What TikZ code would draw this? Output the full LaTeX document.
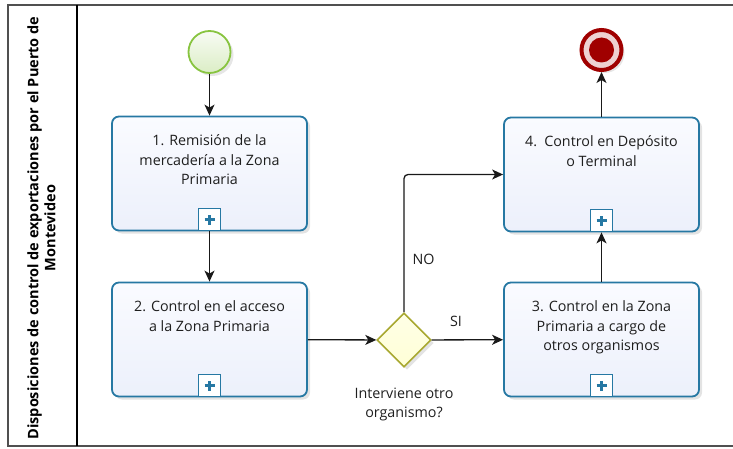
\documentclass[tikz,border=0pt]{standalone}
\usepackage{fontspec}
\setmainfont{Open Sans}
\usetikzlibrary{shapes.geometric,arrows.meta,shadows}
\definecolor{taskblue}{RGB}{38,120,163}
\definecolor{taskfillT}{RGB}{250,251,255}
\definecolor{taskfillB}{RGB}{236,240,251}
\definecolor{startgreen}{RGB}{136,196,64}
\definecolor{endred}{RGB}{160,0,0}
\definecolor{gwborder}{RGB}{168,168,48}
\definecolor{gwfill}{RGB}{255,255,214}
\definecolor{flowcol}{RGB}{25,25,25}
\definecolor{framecol}{RGB}{80,80,80}
\definecolor{txtcol}{RGB}{30,30,30}
\tikzset{
  tasknode/.style={rectangle, rounded corners=7pt, draw=taskblue, line width=1.8pt,
    top color=taskfillT, bottom color=taskfillB, minimum width=195pt, minimum height=114pt,
    inner sep=0pt, drop shadow={opacity=0.22, shadow xshift=3pt, shadow yshift=-3pt}},
  tasktext/.style={anchor=north, align=center, inner sep=0pt, text=txtcol,
    font=\fontsize{14.3}{19.5}\selectfont},
  submarker/.style={rectangle, draw=taskblue, line width=1.6pt, fill=white,
    minimum width=22pt, minimum height=22pt, inner sep=0pt, anchor=south,
    path picture={\draw[taskblue, line width=3.6pt]
      (path picture bounding box.center) ++(-5pt,0pt) -- ++(10pt,0pt)
      (path picture bounding box.center) ++(0pt,-5pt) -- ++(0pt,10pt);}},
  startev/.style={circle, draw=startgreen, line width=1.8pt, top color=white!60!startgreen!15,
    bottom color=startgreen!30, minimum size=42pt, inner sep=0pt,
    drop shadow={opacity=0.2, shadow xshift=3pt, shadow yshift=-3pt}},
  endev/.style={circle, draw=endred, line width=4pt, fill=endred!18,
    minimum size=40pt, inner sep=0pt,
    drop shadow={opacity=0.2, shadow xshift=3pt, shadow yshift=-3pt}},
  endcore/.style={circle, fill=endred, minimum size=25pt, inner sep=0pt},
  gateway/.style={diamond, draw=gwborder, line width=1.6pt, top color=gwfill!60, bottom color=gwfill,
    minimum width=54pt, minimum height=54pt, inner sep=0pt, aspect=1,
    drop shadow={opacity=0.22, shadow xshift=3pt, shadow yshift=-3pt}},
  flow/.style={draw=flowcol, line width=1.3pt, -{Stealth[length=11pt,width=10pt,inset=3pt]}},
  flowlabel/.style={text=txtcol, font=\fontsize{14.3}{15}\selectfont, inner sep=0pt},
  lanelabel/.style={rotate=90, align=center, text=black, inner sep=0pt,
    font=\bfseries\fontsize{14.5}{17}\selectfont},
}
\begin{document}
\begin{tikzpicture}[x=1pt, y=-1pt]
\useasboundingbox (0,0) rectangle (733,449);
% pool frame
\draw[framecol, line width=2pt] (733,5) -- (8,5) -- (8,446) -- (733,446);
\draw[black, line width=1.1pt] (77,5) -- (77,446);
\node[lanelabel] (lane) at (41.5,228) {Disposiciones de control de exportaciones por el Puerto de\\Montevideo};

% events
\node[startev] (start) at (209.5,52) {};
\node[endev] (end) at (601.5,50) {};
\node[endcore] (endin) at (end.center) {};

% tasks
\node[tasknode] (t1) at (209.5,173.5) {};
\node[tasknode] (t2) at (209.5,339.5) {};
\node[tasknode] (t3) at (601.5,339.5) {};
\node[tasknode] (t4) at (601.5,174.5) {};

\node[tasktext] (t1txt) at ([yshift=-19pt]t1.north) {1. Remisión de la\\mercadería a la Zona\\Primaria};
\node[tasktext] (t2txt) at ([yshift=-19pt]t2.north) {2. Control en el acceso\\a la Zona Primaria};
\node[tasktext] (t3txt) at ([yshift=-19pt]t3.north) {3. Control en la Zona\\Primaria a cargo de\\otros organismos};
\node[tasktext] (t4txt) at ([yshift=-19pt]t4.north) {4.\enspace Control en Depósito\\o Terminal};

\node[submarker] (m1) at (t1.south) {};
\node[submarker] (m2) at (t2.south) {};
\node[submarker] (m3) at (t3.south) {};
\node[submarker] (m4) at (t4.south) {};

% gateway
\node[gateway] (gw) at (404,340) {};
\node[flowlabel, anchor=north, align=center, font=\fontsize{14.3}{19}\selectfont] (gwtxt) at ([yshift=-20pt]gw.south) {Interviene otro\\organismo?};

% flows
\draw[flow] (start) -- (t1);
\draw[flow] (t1) -- (t2);
\draw[flow] (t2) -- (gw);
\draw[flow] (gw) -- node[flowlabel, pos=0.34, above=13pt] (si) {SI} (t3);
\draw[flow, rounded corners=4pt] (gw.north) |- node[flowlabel, pos=0.19, right=8pt] (no) {NO} (t4.west);
\draw[flow] (t3) -- (t4);
\draw[flow] (t4) -- (end);
\end{tikzpicture}
\end{document}
